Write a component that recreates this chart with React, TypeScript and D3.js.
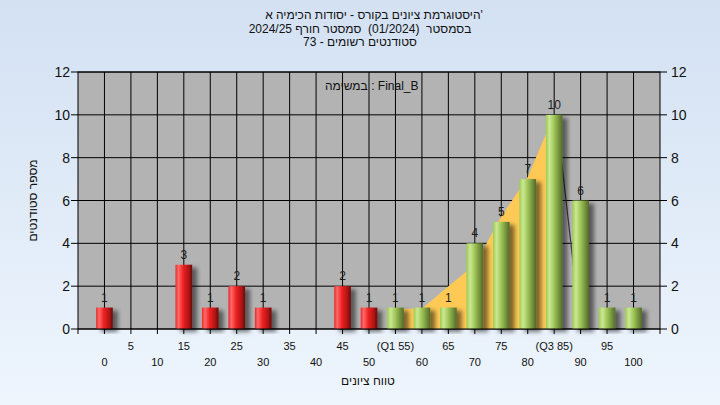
import React from "react";
import * as d3 from "d3";

// ---------- data ----------
const bins = [0, 5, 10, 15, 20, 25, 30, 35, 40, 45, 50, 55, 60, 65, 70, 75, 80, 85, 90, 95, 100];
const counts = [1, 0, 0, 3, 1, 2, 1, 0, 0, 2, 1, 1, 1, 1, 4, 5, 7, 10, 6, 1, 1];
const passFrom = 55;
const q1 = 55;
const q3 = 85;
// highlighted (yellow) envelope between Q1 and Q3
const areaBins = [55, 60, 65, 70, 75, 80, 85];
const areaValues = [0.95, 0.95, 2, 3, 5.25, 7.1, 10];
// dark drop line after the peak
const dropBins = [85.4, 90];
const dropValues = [10, 0];
const yTicks = [0, 2, 4, 6, 8, 10, 12];
const titleLines = [
  "היסטוגרמת ציונים בקורס - יסודות הכימיה א'",
  "בסמסטר  (01/2024)  סמסטר חורף 2024/25",
  "סטודנטים רשומים - 73",
];
const titleCenters = [374, 360, 360];
const subtitle = "במשימה : Final_B";
const xTitle = "טווח ציונים";
const yTitle = "מספר סטודנטים";

const W = 720;
const H = 405;
const FONT = "'Liberation Sans', Arial, 'DejaVu Sans', sans-serif";

export default function App() {
  const x = d3.scaleLinear().domain([-5, 105]).range([78, 660]);
  const y = d3.scaleLinear().domain([0, 12]).range([329, 72]);
  const barW = (x(5) - x(0)) * 0.63;

  const area = d3
    .area<number>()
    .x((_, i) => x(areaBins[i]))
    .y0(y(0))
    .y1((d) => y(d));
  const line = d3
    .line<number>()
    .x((_, i) => x(dropBins[i]))
    .y((d) => y(d));

  const xTickVals = d3.range(0, 101, 5);
  const xLabel = (v: number) => (v === q1 ? `(Q1 ${v})` : v === q3 ? `(Q3 ${v})` : `${v}`);

  const [x0, x1] = x.range();
  const [yb, yt] = y.range();

  return (
    <div style={{ position: "absolute", left: 0, top: 0 }}>
      <style>{`body{margin:0}`}</style>
      <svg width={W} height={H} style={{ display: "block" }} fontFamily={FONT}>
        <defs>
          <linearGradient id="bg" x1="0" y1="0" x2="0" y2="1">
            <stop offset="0%" stopColor="#d3e1f3" />
            <stop offset="100%" stopColor="#eef5fd" />
          </linearGradient>
          <linearGradient id="red" x1="0" y1="0" x2="1" y2="0">
            <stop offset="0%" stopColor="#e82828" />
            <stop offset="18%" stopColor="#ff6a6a" />
            <stop offset="45%" stopColor="#f02222" />
            <stop offset="75%" stopColor="#b81616" />
            <stop offset="100%" stopColor="#6c0c0c" />
          </linearGradient>
          <linearGradient id="green" x1="0" y1="0" x2="1" y2="0">
            <stop offset="0%" stopColor="#9ccb52" />
            <stop offset="22%" stopColor="#cbe893" />
            <stop offset="50%" stopColor="#9ec556" />
            <stop offset="80%" stopColor="#718f3c" />
            <stop offset="100%" stopColor="#526a2a" />
          </linearGradient>
          <filter id="shadow" x="-50%" y="-20%" width="200%" height="140%">
            <feDropShadow dx="5" dy="3" stdDeviation="2" floodColor="#000" floodOpacity="0.5" />
          </filter>
        </defs>

        <rect x={0} y={0} width={W} height={H} fill="url(#bg)" />

        {/* titles */}
        {titleLines.map((t, i) => (
          <text
            key={i}
            x={titleCenters[i]}
            y={19 + i * 13.5}
            textAnchor="middle"
            fontSize={12}
            fill="#111"
            style={{ whiteSpace: "pre" }}
          >
            {t}
          </text>
        ))}

        {/* plot area */}
        <rect x={x0} y={yt} width={x1 - x0} height={yb - yt} fill="#b3b3b3" />
        {/* grid */}
        {xTickVals.map((v) => (
          <line key={"gx" + v} x1={x(v)} x2={x(v)} y1={yt} y2={yb} stroke="#000" strokeWidth={1} />
        ))}
        {yTicks.map((v) => (
          <line key={"gy" + v} x1={x0} x2={x1} y1={y(v)} y2={y(v)} stroke="#000" strokeWidth={1} />
        ))}

        {/* yellow area and drop line */}
        <path d={area(areaValues) || ""} fill="#ffc955" />
        <path d={line(dropValues) || ""} fill="none" stroke="#3a3a3a" strokeWidth={1.2} />

        {/* bars */}
        {bins.map((b, i) =>
          counts[i] > 0 ? (
            <rect
              key={"b" + b}
              x={x(b) - barW / 2}
              y={y(counts[i])}
              width={barW}
              height={y(0) - y(counts[i])}
              fill={b < passFrom ? "url(#red)" : "url(#green)"}
              filter="url(#shadow)"
            />
          ) : null
        )}

        {/* border */}
        <rect x={x0} y={yt} width={x1 - x0} height={yb - yt} fill="none" stroke="#000" strokeWidth={1} />

        {/* value labels */}
        {bins.map((b, i) =>
          counts[i] > 0 ? (
            <text key={"l" + b} x={x(b)} y={y(counts[i]) - 6} textAnchor="middle" fontSize={12} fill="#1c1c1c">
              {counts[i]}
            </text>
          ) : null
        )}

        <text x={325} y={90} textAnchor="start" fontSize={12} fill="#111" style={{ whiteSpace: "pre" }}>
          {subtitle}
        </text>

        {/* y axes */}
        {yTicks.map((v) => (
          <g key={"ya" + v}>
            <line x1={x0 - 7} x2={x0} y1={y(v)} y2={y(v)} stroke="#000" />
            <text x={x0 - 8} y={y(v) + 5} textAnchor="end" fontSize={14} fill="#111">
              {v}
            </text>
            <line x1={x1} x2={x1 + 7} y1={y(v)} y2={y(v)} stroke="#000" />
            <text x={x1 + 11} y={y(v) + 5} textAnchor="start" fontSize={14} fill="#111">
              {v}
            </text>
          </g>
        ))}

        {/* x axis */}
        {[-5, ...xTickVals, 105].map((v) => (
          <line key={"xt" + v} x1={x(v)} x2={x(v)} y1={yb} y2={yb + 5} stroke="#000" />
        ))}
        {xTickVals.map((v) => {
          const row = (v / 5) % 2 === 1 ? 0 : 1;
          return (
            <text
              key={"xl" + v}
              x={x(v)}
              y={row === 0 ? 349.5 : 366}
              textAnchor="middle"
              fontSize={11}
              fill="#111"
            >
              {xLabel(v)}
            </text>
          );
        })}

        <text x={368} y={385} textAnchor="middle" fontSize={12} fill="#111">
          {xTitle}
        </text>
        <text
          transform={`translate(37,${(yt + yb) / 2}) rotate(-90)`}
          textAnchor="middle"
          fontSize={12}
          fill="#111"
        >
          {yTitle}
        </text>
      </svg>
    </div>
  );
}
